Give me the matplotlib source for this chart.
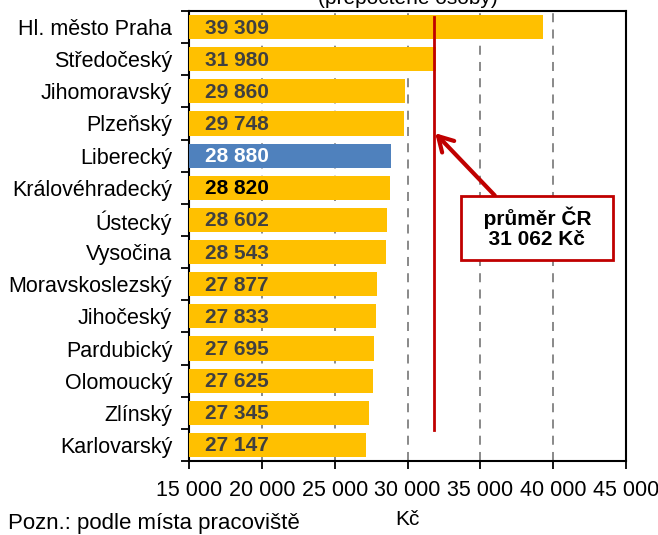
import numpy as np
import matplotlib.pyplot as plt

regions = ["Hl. město Praha", "Středočeský", "Jihomoravský", "Plzeňský", "Liberecký",
           "Královéhradecký", "Ústecký", "Vysočina", "Moravskoslezský", "Jihočeský",
           "Pardubický", "Olomoucký", "Zlínský", "Karlovarský"]
wages = [39309, 31980, 29860, 29748, 28880, 28820, 28602, 28543, 27877, 27833,
         27695, 27625, 27345, 27147]
labels = ["39 309", "31 980", "29 860", "29 748", "28 880", "28 820", "28 602", "28 543",
          "27 877", "27 833", "27 695", "27 625", "27 345", "27 147"]
avg_line = 31800   # where the average line sits in the picture
avg_text = "  průměr ČR  \n  31 062 Kč  "
xticks = [15000, 20000, 25000, 30000, 35000, 40000, 45000]
xticklabels = ["15 000", "20 000", "25 000", "30 000", "35 000", "40 000", "45 000"]

plt.rcParams['font.family'] = ['Liberation Sans', 'DejaVu Sans']

fig = plt.figure(figsize=(6.58, 5.35), dpi=100)
ax = fig.add_axes([189/658, 1-461/535, 437/658, 450/535])

y = np.arange(len(regions))
colors = ["#FFC000"] * len(regions)
colors[4] = "#4F81BD"
ax.barh(y, np.array(wages) - 15000, left=15000, height=0.75, color=colors, zorder=3)

txtcol = ["#404040"] * len(regions)
txtcol[4] = "white"
txtcol[5] = "black"
for i in range(len(regions)):
    ax.text(16100, y[i] + 0.03, labels[i], va='center', ha='left', fontsize=15,
            fontweight='bold', color=txtcol[i], zorder=4)

ax.set_xlim(15000, 45000)
ax.set_ylim(len(regions) - 0.5, -0.5)
ax.set_xticks(xticks)
ax.set_xticklabels(xticklabels, fontsize=15.5)
ax.set_yticks(y)
ax.set_yticklabels(regions, fontsize=15.5)
ax.set_yticks(np.arange(len(regions) + 1) - 0.5, minor=True)
ax.tick_params(axis='y', which='major', length=0, pad=12)
ax.tick_params(axis='y', which='minor', length=6, width=1.3, direction='out')
ax.tick_params(axis='x', length=6, width=1.3, direction='out', pad=8)
ax.xaxis.grid(True, linestyle=(0, (5, 4)), color='#808080', linewidth=1.3, zorder=1)
for s in ax.spines.values():
    s.set_linewidth(1.5)
ax.set_xlabel("Kč", fontsize=15, labelpad=6)

ax.plot([avg_line, avg_line], [-0.3, 12.55], color="#C00000", linewidth=2, zorder=5)
ax.annotate(avg_text, xy=(avg_line + 100, 3.3), xytext=(38900, 6.25),
            ha='center', va='center', fontsize=15, fontweight='bold',
            multialignment='center', linespacing=1.05,
            bbox=dict(boxstyle='square,pad=0.5', fc='white', ec='#C00000', lw=2),
            arrowprops=dict(arrowstyle='->,head_length=0.7,head_width=0.4',
                            color='#C00000', lw=3, shrinkA=0, shrinkB=0,
                            relpos=(0.26, 1.0)),
            zorder=6)

fig.text(189/658 + 0.5*437/658, 1.003, "(přepočtené osoby)", ha='center', va='center',
         fontsize=15)
fig.text(8/658, 1-524/535, "Pozn.: podle místa pracoviště", ha='left', va='center',
         fontsize=16)

fig.savefig("out.png", dpi=100)
